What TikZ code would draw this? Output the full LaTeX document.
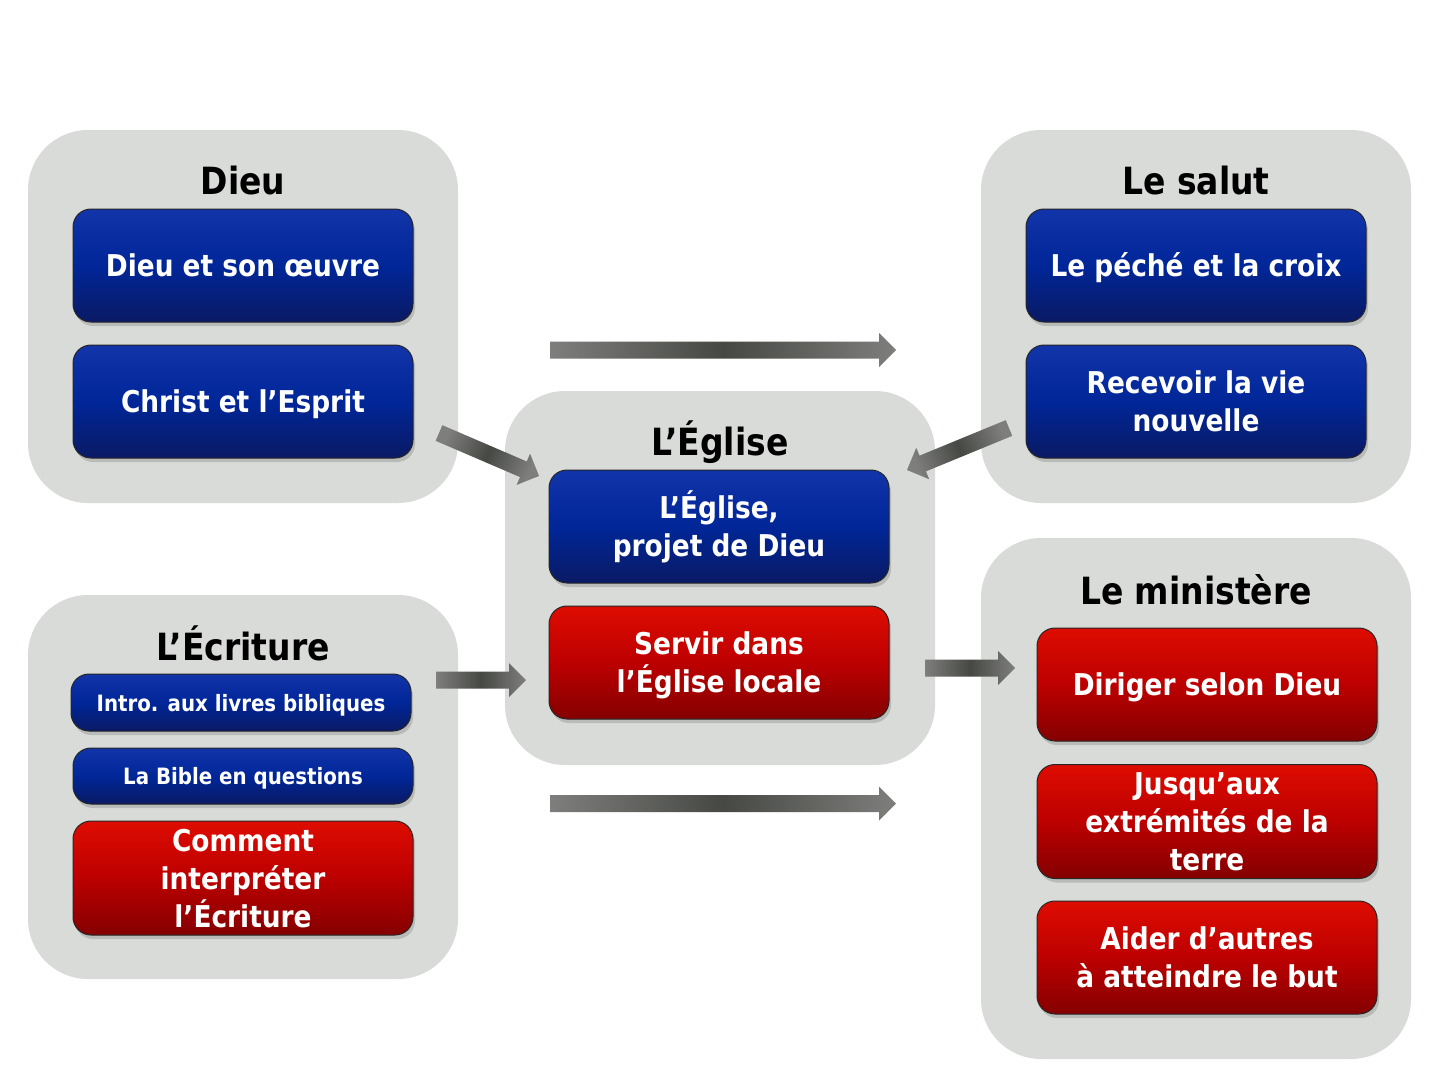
\documentclass[tikz,border=0pt]{standalone}
\usepackage{fontspec}
\setmainfont{DejaVu Sans}[FakeStretch=0.88]
\usetikzlibrary{calc,shadows}
\definecolor{grp}{RGB}{217,219,216}
\definecolor{bluetop}{RGB}{18,52,170}
\definecolor{bluemid}{RGB}{0,38,152}
\definecolor{bluebot}{RGB}{10,26,100}
\definecolor{redtop}{RGB}{222,12,0}
\definecolor{redmid}{RGB}{188,0,0}
\definecolor{redbot}{RGB}{132,0,0}
\definecolor{arrend}{RGB}{126,127,124}
\definecolor{arrmid}{RGB}{70,72,68}
\newcommand{\cs}{\rule[-8pt]{0pt}{38pt}}
\newcommand{\csm}{\rule[-5.5pt]{0pt}{28pt}}
\tikzset{
  grpbox/.style={fill=grp, rounded corners=60pt, inner sep=0pt, draw=none},
  ttl/.style={font=\fontsize{37.5}{44}\selectfont\bfseries, text=black, inner sep=0pt, anchor=base},
  card/.style={rounded corners=18pt, draw=black!85, line width=1pt, minimum width=340pt,
    text=white, align=center, inner sep=0pt, font=\fontsize{30}{38}\selectfont\bfseries,
    drop shadow={shadow xshift=2pt, shadow yshift=-4pt, opacity=0.35}},
  bluecard/.style={card, top color=bluetop, bottom color=bluebot, middle color=bluemid},
  redcard/.style={card, top color=redtop, bottom color=redbot, middle color=redmid},
  smallcard/.style={font=\fontsize{22.5}{28}\selectfont\bfseries},
}
\newcommand{\blockarrow}[3]{%
  \coordinate (ba-c) at ($(#2)!17pt!(#1)$);
  \path[shading=axis, left color=arrend, right color=arrend, middle color=arrmid, shading angle=#3]
    ($(#1)!8.5pt!90:(#2)$) -- ($(ba-c)!8.5pt!90:(#2)$) -- ($(ba-c)!17pt!90:(#2)$) -- (#2)
    -- ($(ba-c)!17pt!-90:(#2)$) -- ($(ba-c)!8.5pt!-90:(#2)$) -- ($(#1)!8.5pt!-90:(#2)$) -- cycle;
}
\begin{document}
\begin{tikzpicture}[x=1pt,y=-1pt]
\fill[white] (0,0) rectangle (1436,1074);
\useasboundingbox (0,0) rectangle (1436,1074);

% groups
\node[grpbox, minimum width=430pt, minimum height=373pt] (gDieu) at (243,316.5) {};
\node[grpbox, minimum width=430pt, minimum height=373pt] (gSalut) at (1196,316.5) {};
\node[grpbox, minimum width=430pt, minimum height=374pt] (gEglise) at (720,578) {};
\node[grpbox, minimum width=430pt, minimum height=384pt] (gEcriture) at (243,787) {};
\node[grpbox, minimum width=430pt, minimum height=521pt] (gMin) at (1196,798.5) {};

% titles (positioned by baseline)
\node[ttl] (tDieu) at (243,194) {Dieu};
\node[ttl] (tSalut) at (1196,194) {Le salut};
\node[ttl] (tEglise) at (720,455) {L’Église};
\node[ttl] (tEcriture) at (243,660) {L’Écriture};
\node[ttl] (tMin) at (1196,604) {Le ministère};

% cards
\node[bluecard, minimum height=113pt] (c1) at (243,265.5) {\cs Dieu et son œuvre};
\node[bluecard, minimum height=113pt] (c2) at (243,401.5) {\cs Christ et l’Esprit};
\node[bluecard, minimum height=113pt] (c3) at (1196,265.5) {\cs Le péché et la croix};
\node[bluecard, minimum height=113pt] (c4) at (1196,401.5) {\cs Recevoir la vie\\\cs nouvelle};
\node[bluecard, minimum height=113pt] (c5) at (719,526.5) {\cs L’Église,\\\cs projet de Dieu};
\node[redcard, minimum height=113pt] (c6) at (719,662.5) {\cs Servir dans\\\cs l’Église locale};
\node[bluecard, smallcard, minimum height=57pt] (c7) at (241,702.5) {\csm Intro. aux livres bibliques};
\node[bluecard, smallcard, minimum height=56pt] (c8) at (243,776) {\csm La Bible en questions};
\node[redcard, minimum height=112pt] (c9) at (243,878) {\cs Comment\\\cs interpréter\\\cs l’Écriture};
\node[redcard, minimum height=113pt] (c10) at (1207,684.5) {\cs Diriger selon Dieu};
\node[redcard, minimum height=113pt] (c11) at (1207,821.5) {\cs Jusqu’aux\\\cs extrémités de la\\\cs terre};
\node[redcard, minimum height=113pt] (c12) at (1207,957.5) {\cs Aider d’autres\\\cs à atteindre le but};

% arrows
\coordinate (a1s) at (550,350);  \coordinate (a1e) at (896,350);
\coordinate (a2s) at (550,803.5); \coordinate (a2e) at (896,803.5);
\coordinate (a3s) at (439,433);  \coordinate (a3e) at (539,476);
\coordinate (a4s) at (1009,428); \coordinate (a4e) at (907,470);
\coordinate (a5s) at (436,680);  \coordinate (a5e) at (526,680);
\coordinate (a6s) at (925,668);  \coordinate (a6e) at (1015,668);
\blockarrow{a1s}{a1e}{90}
\blockarrow{a2s}{a2e}{90}
\blockarrow{a3s}{a3e}{67}
\blockarrow{a4s}{a4e}{-68}
\blockarrow{a5s}{a5e}{90}
\blockarrow{a6s}{a6e}{90}
\end{tikzpicture}
\end{document}
